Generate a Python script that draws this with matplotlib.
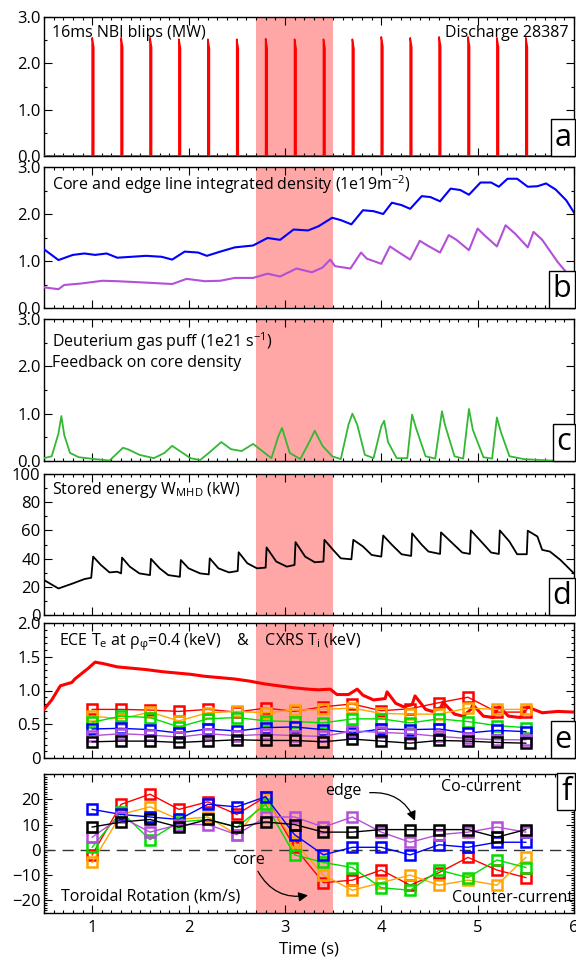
import numpy as np
import matplotlib
matplotlib.use("Agg")
import matplotlib.pyplot as plt
from matplotlib.ticker import MultipleLocator, FormatStrFormatter

# -------------------------
# Data
# -------------------------
# NBI blip times (s) and peak power (MW)
blip_times = [1.0, 1.3, 1.6, 1.9, 2.2, 2.5, 2.8, 3.1, 3.4, 3.7, 4.0, 4.3, 4.6, 4.9, 5.2, 5.5]
blip_power = [2.55, 2.55, 2.55, 2.52, 2.52, 2.52, 2.53, 2.52, 2.52, 2.52, 2.57, 2.55, 2.57, 2.57, 2.55, 2.55]
blip_len = 0.016

# core line integrated density (1e19 m^-2)
t_core = [0.5, 0.65, 0.8, 0.92, 1.03, 1.15, 1.26, 1.41, 1.56, 1.72, 1.83, 1.96, 2.1, 2.19, 2.33,
          2.48, 2.67, 2.82, 2.95, 3.09, 3.24, 3.35, 3.49, 3.58, 3.69, 3.81, 3.92, 4.02, 4.11, 4.21,
          4.3, 4.42, 4.51, 4.61, 4.72, 4.82, 4.91, 5.03, 5.14, 5.22, 5.31, 5.41, 5.52, 5.62, 5.71,
          5.81, 5.92, 6.0]
n_core = [1.25, 1.02, 1.13, 1.16, 1.13, 1.16, 1.07, 1.09, 1.11, 1.09, 1.03, 1.2, 1.18, 1.11, 1.2,
          1.29, 1.33, 1.49, 1.45, 1.67, 1.65, 1.74, 1.92, 1.87, 1.78, 2.08, 2.06, 2.0, 2.24, 2.19,
          2.11, 2.38, 2.36, 2.27, 2.54, 2.51, 2.41, 2.67, 2.67, 2.58, 2.75, 2.75, 2.58, 2.59, 2.65,
          2.52, 2.29, 2.03]

# edge line integrated density
t_edge = [0.5, 0.65, 0.71, 0.88, 1.11, 1.26, 1.56, 1.83, 1.98, 2.17, 2.33, 2.48, 2.67, 2.82, 2.95,
          3.12, 3.28, 3.39, 3.47, 3.52, 3.68, 3.79, 3.85, 4.0, 4.09, 4.17, 4.3, 4.4, 4.47, 4.61,
          4.7, 4.78, 4.91, 5.0, 5.08, 5.2, 5.29, 5.39, 5.52, 5.58, 5.67, 5.83, 5.92, 6.0]
n_edge = [0.44, 0.4, 0.49, 0.52, 0.58, 0.57, 0.54, 0.51, 0.62, 0.57, 0.58, 0.64, 0.64, 0.73, 0.67,
          0.84, 0.76, 0.86, 1.03, 0.89, 0.84, 1.18, 1.05, 0.94, 1.31, 1.2, 1.03, 1.43, 1.34, 1.18,
          1.55, 1.45, 1.23, 1.69, 1.53, 1.31, 1.76, 1.58, 1.29, 1.62, 1.45, 0.98, 0.76, 0.58]

# deuterium gas puff (1e21 s^-1)
t_gas = [0.5, 0.58, 0.65, 0.68, 0.71, 0.77, 0.86, 1.03, 1.18, 1.32, 1.38, 1.49, 1.64, 1.75, 1.83,
         1.91, 2.02, 2.12, 2.21, 2.34, 2.44, 2.55, 2.67, 2.74, 2.86, 2.93, 2.97, 3.05, 3.16, 3.26,
         3.31, 3.39, 3.49, 3.58, 3.66, 3.7, 3.75, 3.83, 3.92, 4.0, 4.03, 4.07, 4.16, 4.27, 4.32,
         4.36, 4.46, 4.56, 4.63, 4.66, 4.76, 4.85, 4.91, 4.95, 5.06, 5.15, 5.2, 5.24, 5.33, 5.48,
         5.75, 6.0]
q_gas = [0.06, 0.1, 0.58, 0.95, 0.55, 0.17, 0.08, 0.04, 0.01, 0.28, 0.24, 0.13, 0.06, 0.17, 0.32,
         0.21, 0.06, 0.02, 0.17, 0.4, 0.25, 0.21, 0.36, 0.25, 0.06, 0.51, 0.7, 0.17, 0.04, 0.43,
         0.64, 0.32, 0.1, 0.04, 0.77, 1.0, 0.77, 0.13, 0.06, 0.73, 0.85, 0.4, 0.06, 0.06, 0.98,
         0.7, 0.1, 0.05, 1.05, 0.77, 0.1, 0.05, 1.1, 0.66, 0.08, 0.05, 0.92, 0.62, 0.1, 0.04,
         0.01, 0.01]

# stored energy W_MHD (kW)
t_w = [0.5, 0.65, 0.8, 0.92, 0.99, 1.01, 1.09, 1.18, 1.26, 1.3, 1.31, 1.39, 1.49, 1.6, 1.61,
       1.7, 1.79, 1.91, 1.92, 2.0, 2.12, 2.21, 2.22, 2.31, 2.42, 2.51, 2.52, 2.61, 2.71, 2.8,
       2.81, 2.91, 3.02, 3.1, 3.11, 3.21, 3.31, 3.4, 3.41, 3.5, 3.58, 3.69, 3.71, 3.81, 3.9,
       4.0, 4.02, 4.11, 4.21, 4.31, 4.32, 4.42, 4.49, 4.61, 4.62, 4.72, 4.84, 4.92, 4.93, 5.03,
       5.14, 5.22, 5.23, 5.33, 5.41, 5.51, 5.52, 5.62, 5.67, 5.75, 5.86, 6.0]
w_mhd = [24.8, 18.8, 22.4, 25.5, 26.4, 41.4, 35.5, 30.2, 30.7, 29.5, 40.7, 34.3, 29.5, 28.3, 39.8,
         33.1, 28.3, 27.1, 39.0, 33.1, 29.5, 28.8, 40.2, 33.1, 30.2, 31.2, 44.5, 36.7, 33.1, 33.6,
         47.9, 37.9, 34.3, 35.5, 51.7, 41.4, 37.4, 37.9, 53.3, 46.2, 40.2, 39.5, 53.3, 48.6, 42.6,
         41.4, 56.4, 49.8, 43.1, 41.9, 57.9, 49.8, 45.0, 43.3, 58.6, 52.1, 44.3, 43.3, 60.0, 52.6,
         44.3, 43.3, 60.0, 52.1, 43.1, 43.1, 59.8, 55.7, 46.2, 45.0, 39.0, 29.5]

# ECE Te at rho_phi = 0.4 (keV)
t_ece = [0.5, 0.58, 0.67, 0.79, 0.82, 0.96, 1.03, 1.11, 1.26, 1.41, 1.56, 1.72, 1.87, 2.02, 2.17,
         2.33, 2.48, 2.63, 2.78, 2.93, 3.09, 3.24, 3.35, 3.47, 3.54, 3.66, 3.75, 3.81, 3.92, 4.04,
         4.06, 4.15, 4.23, 4.32, 4.35, 4.46, 4.53, 4.62, 4.64, 4.76, 4.85, 4.93, 4.95, 5.06, 5.16,
         5.22, 5.32, 5.44, 5.52, 5.58, 5.67, 5.83, 6.0]
te_ece = [0.72, 0.86, 1.07, 1.12, 1.17, 1.33, 1.42, 1.40, 1.35, 1.33, 1.31, 1.28, 1.26, 1.24, 1.21,
          1.19, 1.17, 1.14, 1.10, 1.07, 1.04, 1.02, 1.01, 1.02, 0.94, 0.94, 1.02, 0.93, 0.86, 0.88,
          0.98, 0.81, 0.76, 0.79, 0.92, 0.72, 0.69, 0.75, 0.83, 0.65, 0.62, 0.72, 0.79, 0.62, 0.60,
          0.76, 0.62, 0.60, 0.76, 0.72, 0.67, 0.69, 0.68]

# CXRS channels (core -> edge), sampled at the blip times
cx_colors = ['#ff0000', '#ffa500', '#00dd00', '#0000ff', '#b44fd9', '#000000']
ti_red    = [0.72, 0.72, 0.71, 0.69, 0.72, 0.68, 0.74, 0.69, 0.76, 0.80, 0.70, 0.73, 0.82, 0.90, 0.68, 0.68]
ti_orange = [0.62, 0.58, 0.68, 0.55, 0.67, 0.69, 0.67, 0.71, 0.72, 0.74, 0.66, 0.65, 0.65, 0.74, 0.72, 0.72]
ti_green  = [0.53, 0.62, 0.60, 0.46, 0.58, 0.60, 0.55, 0.54, 0.52, 0.58, 0.58, 0.52, 0.58, 0.54, 0.48, 0.45]
ti_blue   = [0.43, 0.44, 0.42, 0.37, 0.43, 0.40, 0.45, 0.46, 0.42, 0.37, 0.43, 0.42, 0.43, 0.37, 0.41, 0.39]
ti_purple = [0.33, 0.36, 0.34, 0.31, 0.36, 0.33, 0.35, 0.33, 0.32, 0.40, 0.38, 0.36, 0.32, 0.29, 0.27, 0.27]
ti_black  = [0.24, 0.25, 0.25, 0.23, 0.25, 0.27, 0.26, 0.26, 0.24, 0.28, 0.25, 0.22, 0.26, 0.25, 0.23, 0.22]

# toroidal rotation (km/s)
vt_red    = [-2, 18, 22, 16, 19, 14, 21, 1, -13, -12, -8, -14, -9, -3, -8, -11]
vt_orange = [-5, 14, 17, 12, 13, 6, 20, 3, -10, -16, -13, -10, -14, -12, -14, -3]
vt_green  = [1, 15, 4, 11, 12, 9, 18, -2, -5, -7, -15, -16, -8, -11, -4, -7]
vt_blue   = [16, 14, 13, 12, 18, 17, 21, 6, -2, 1, 1, -2, 2, 1, 3, 3]
vt_purple = [5, 13, 7, 10, 10, 6, 13, 13, 9, 13, 7, 3, 6, 7, 9, 7]
vt_black  = [9, 11, 12, 9, 12, 9, 11, 10, 7, 7, 8, 8, 8, 8, 5, 8]

# -------------------------
# Style
# -------------------------
plt.rcParams['font.family'] = ['Open Sans', 'DejaVu Sans']
plt.rcParams['font.size'] = 11.5
plt.rcParams['mathtext.fontset'] = 'custom'
plt.rcParams['mathtext.rm'] = 'Open Sans'
plt.rcParams['mathtext.it'] = 'Open Sans:italic'
plt.rcParams['axes.linewidth'] = 1.0

band_color = '#ffa6a6'
W, H = 576, 961
fig = plt.figure(figsize=(W / 100, H / 100), dpi=100)

# panel extents in pixels (top, bottom)
panels = [(17, 156), (167, 308), (319, 461), (474, 615), (623, 758), (774, 913)]
x0, x1 = 44, 574

axes = []
for top, bot in panels:
    ax = fig.add_axes([x0 / W, 1 - bot / H, (x1 - x0) / W, (bot - top) / H])
    ax.set_xlim(0.5, 6.0)
    ax.axvspan(2.7, 3.5, color=band_color, lw=0, zorder=0)
    ax.xaxis.set_major_locator(MultipleLocator(1))
    ax.xaxis.set_minor_locator(MultipleLocator(0.1))
    ax.tick_params(which='both', direction='in', top=True, right=True, width=0.8)
    ax.tick_params(which='major', length=5.5, labelsize=12, pad=2.5)
    ax.tick_params(which='minor', length=2.5)
    ax.tick_params(axis='x', labelbottom=False)
    axes.append(ax)


def letter(ax, s, top=False):
    ax.text(0.995, 0.98 if top else 0.025, s, transform=ax.transAxes,
            ha='right', va='top' if top else 'bottom', fontsize=22,
            bbox=dict(boxstyle='square,pad=0.12', fc='white', ec='black', lw=1.0), zorder=10)


# -------------------------
# (a) NBI blips
# -------------------------
ax = axes[0]
t_nbi, p_nbi = [0.5], [0.0]
for tb, pb in zip(blip_times, blip_power):
    t_nbi += [tb, tb, tb + blip_len, tb + blip_len]
    p_nbi += [0.0, pb, 0.92 * pb, 0.0]
t_nbi.append(6.0)
p_nbi.append(0.0)
ax.plot(t_nbi, p_nbi, color='red', lw=1.2, zorder=3)
ax.set_ylim(0, 3)
ax.yaxis.set_major_locator(MultipleLocator(1))
ax.yaxis.set_minor_locator(MultipleLocator(0.5))
ax.yaxis.set_major_formatter(FormatStrFormatter('%.1f'))
ax.text(0.015, 0.885, '16ms NBI blips (MW)', transform=ax.transAxes, va='center')
ax.text(0.99, 0.885, 'Discharge 28387', transform=ax.transAxes, va='center', ha='right')
letter(ax, 'a')

# -------------------------
# (b) line integrated density
# -------------------------
ax = axes[1]
ax.plot(t_core, n_core, color='#0000ff', lw=1.5, zorder=3)
ax.plot(t_edge, n_edge, color='#b44fd9', lw=1.5, zorder=3)
ax.set_ylim(0, 3)
ax.yaxis.set_major_locator(MultipleLocator(1))
ax.yaxis.set_minor_locator(MultipleLocator(0.5))
ax.yaxis.set_major_formatter(FormatStrFormatter('%.1f'))
ax.text(0.015, 0.875, r'Core and edge line integrated density (1e19m$^{\mathrm{-2}}$)',
        transform=ax.transAxes, va='center')
letter(ax, 'b')

# -------------------------
# (c) gas puff
# -------------------------
ax = axes[2]
ax.plot(t_gas, q_gas, color='#33b833', lw=1.3, zorder=3)
ax.set_ylim(0, 3)
ax.yaxis.set_major_locator(MultipleLocator(1))
ax.yaxis.set_minor_locator(MultipleLocator(0.5))
ax.yaxis.set_major_formatter(FormatStrFormatter('%.1f'))
ax.text(0.015, 0.84, r'Deuterium gas puff (1e21 s$^{\mathrm{-1}}$)', transform=ax.transAxes, va='center')
ax.text(0.015, 0.69, 'Feedback on core density', transform=ax.transAxes, va='center')
letter(ax, 'c')

# -------------------------
# (d) stored energy
# -------------------------
ax = axes[3]
ax.plot(t_w, w_mhd, color='black', lw=1.3, zorder=3)
ax.set_ylim(0, 100)
ax.yaxis.set_major_locator(MultipleLocator(20))
ax.yaxis.set_minor_locator(MultipleLocator(10))
ax.text(0.015, 0.885, r'Stored energy W$_{\mathrm{MHD}}$ (kW)', transform=ax.transAxes, va='center')
letter(ax, 'd')

# -------------------------
# (e) temperatures
# -------------------------
ax = axes[4]
ax.plot(t_ece, te_ece, color='red', lw=2.2, zorder=3)
ti_all = [ti_red, ti_orange, ti_green, ti_blue, ti_purple, ti_black]
for vals, c in zip(ti_all, cx_colors):
    ax.plot(blip_times, vals, color=c, lw=1.0, marker='s', ms=7.5, mfc='none', mec=c, mew=1.8, zorder=4)
ax.set_ylim(0, 2)
ax.yaxis.set_minor_locator(MultipleLocator(0.1))
ax.set_yticks([0, 0.5, 1.0, 1.5, 2.0])
ax.set_yticklabels(['0', '0.5', '1.0', '1.5', '2.0'])
ax.text(0.028, 0.86, r'ECE T$_{\mathrm{e}}$ at ρ$_{\mathrm{φ}}$=0.4 (keV)    &    CXRS T$_{\mathrm{i}}$ (keV)',
        transform=ax.transAxes, va='center')
letter(ax, 'e')

# -------------------------
# (f) toroidal rotation
# -------------------------
ax = axes[5]
vt_all = [vt_red, vt_orange, vt_green, vt_blue, vt_purple, vt_black]
for vals, c in zip(vt_all, cx_colors):
    ax.plot(blip_times, vals, color=c, lw=1.0, marker='s', ms=7.5, mfc='none', mec=c, mew=1.8, zorder=4)
ax.axhline(0, color='#333333', lw=1.0, ls=(0, (8, 5)), zorder=2)
ax.set_ylim(-25, 30)
ax.yaxis.set_minor_locator(MultipleLocator(1))
ax.set_yticks([-20, -10, 0, 10, 20])
ax.tick_params(axis='x', labelbottom=True, pad=5)
ax.set_xticks([1, 2, 3, 4, 5, 6])
ax.set_xlabel('Time (s)', labelpad=4, fontsize=12)
ax.text(4.62, 24.8, 'Co-current', va='center')
ax.text(0.998, 0.11, 'Counter-current', transform=ax.transAxes, va='center', ha='right')
ax.text(0.68, -18.5, 'Toroidal Rotation (km/s)', va='center')
ax.text(3.42, 23.2, 'edge', va='center')
ax.text(2.45, -4.0, 'core', va='center')
ax.annotate('', xy=(4.35, 11.5), xytext=(3.88, 22.6),
            arrowprops=dict(arrowstyle='-|>', color='black', lw=0.9, mutation_scale=14,
                            connectionstyle='arc3,rad=-0.35', shrinkA=0, shrinkB=0), zorder=6)
ax.annotate('', xy=(3.24, -18), xytext=(2.72, -8.5),
            arrowprops=dict(arrowstyle='-|>', color='black', lw=0.9, mutation_scale=14,
                            connectionstyle='arc3,rad=0.35', shrinkA=0, shrinkB=0), zorder=6)
letter(ax, 'f', top=True)

fig.savefig('out.png', dpi=100)
